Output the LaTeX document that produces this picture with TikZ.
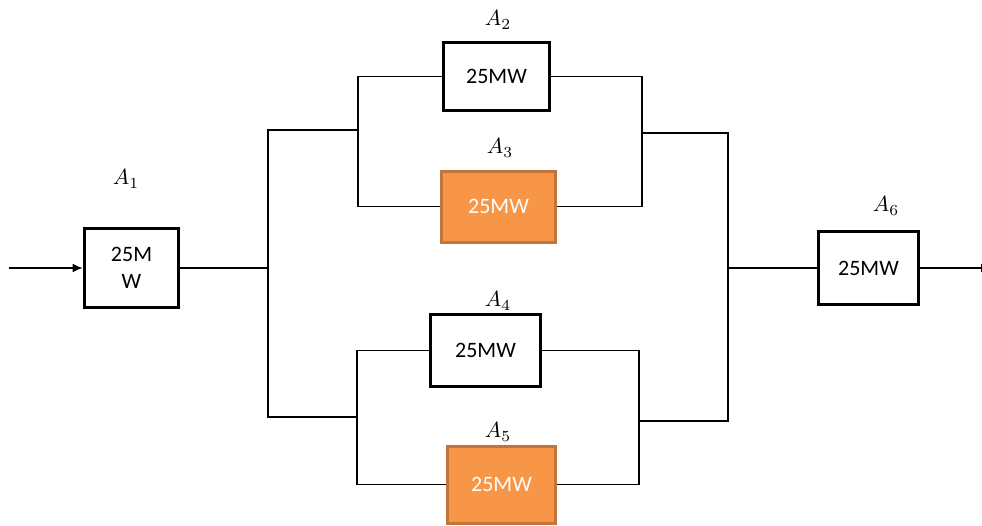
\documentclass[tikz,border=0pt]{standalone}
\usepackage{fontspec}
\setmainfont{Carlito}
\usetikzlibrary{arrows.meta}
\definecolor{boxorange}{HTML}{F79646}
\definecolor{boxorangeedge}{HTML}{C2753B}
\begin{document}
\begin{tikzpicture}[x=1pt,y=-1pt,
  wire/.style={line width=1.6pt,black},
  whitebox/.style={draw=black,line width=3.8pt,fill=white,inner sep=0pt,
    font=\fontsize{22}{27}\selectfont,align=center},
  orangebox/.style={draw=boxorangeedge,line width=3pt,fill=boxorange,inner sep=0pt,
    text=white,font=\fontsize{22}{27}\selectfont,align=center},
  lbl/.style={font=\normalsize,inner sep=0pt,scale=2.2},
  tip/.style={-{Latex[length=10pt,width=9pt]}}
]
\useasboundingbox (0,0) rectangle (982,525);

% blocks
\node[whitebox,minimum width=94pt,minimum height=79pt] (A1) at (131.5,268) {25M\\W};
\node[whitebox,minimum width=106pt,minimum height=68pt] (A2) at (496.5,76.5) {25MW};
\node[orangebox,minimum width=114pt,minimum height=71pt] (A3) at (498.5,206.5) {25MW};
\node[whitebox,minimum width=110pt,minimum height=72pt] (A4) at (485.5,350.5) {25MW};
\node[orangebox,minimum width=108pt,minimum height=77pt] (A5) at (501.5,484.5) {25MW};
\node[whitebox,minimum width=100pt,minimum height=73pt] (A6) at (868.5,268) {25MW};

% labels
\node[lbl] (L1) at (126,179) {$A_1$};
\node[lbl] (L2) at (498,20) {$A_2$};
\node[lbl] (L3) at (500,148) {$A_3$};
\node[lbl] (L4) at (498,301) {$A_4$};
\node[lbl] (L5) at (498,432) {$A_5$};
\node[lbl] (L6) at (886,206) {$A_6$};

% junction coordinates
\coordinate (in) at (9,268);
\coordinate (out) at (991,268);
\coordinate (j1) at (268,268);
\coordinate (j2) at (728,268);
\coordinate (bL1) at (358,130);
\coordinate (bR1) at (642,133);
\coordinate (bL2) at (357,417);
\coordinate (bR2) at (639,421);

% inner parallel pairs
\draw[wire] (A2.west) -| (bL1) |- (A3.west);
\draw[wire] (A2.east) -| (bR1) |- (A3.east);
\draw[wire] (A4.west) -| (bL2) |- (A5.west);
\draw[wire] (A4.east) -| (bR2) |- (A5.east);
% outer buses
\draw[wire] (bL1) -| (j1) |- (bL2);
\draw[wire] (bR1) -| (j2) |- (bR2);
% series links
\draw[wire,tip] (in) -- (A1.west);
\draw[wire] (A1.east) -- (j1);
\draw[wire] (j2) -- (A6.west);
\draw[wire,tip] (A6.east) -- (out);
\end{tikzpicture}
\end{document}
